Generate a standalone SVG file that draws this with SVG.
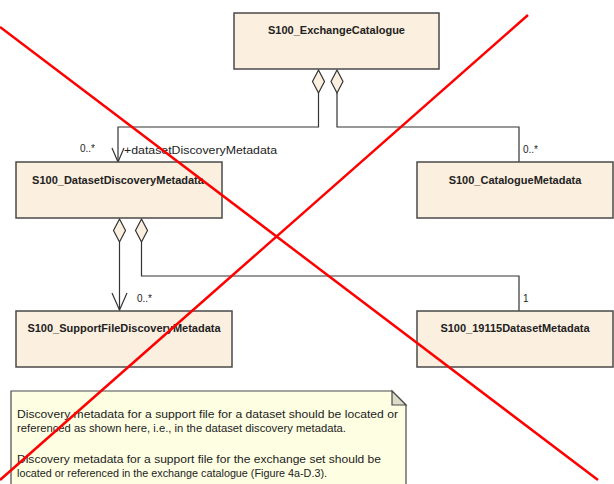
<svg xmlns="http://www.w3.org/2000/svg" width="614" height="484" viewBox="0 0 614 484">
<style>
.box{fill:#FBEFDF;stroke:#4a4a4a;stroke-width:1.5}
.title{font-family:"Liberation Sans",Arial,sans-serif;font-size:11px;font-weight:bold;fill:#222;text-anchor:middle}
.lbl{font-family:"Liberation Sans",Arial,sans-serif;font-size:10px;fill:#222}
.conn{fill:none;stroke:#333;stroke-width:1.2}
.dia{fill:#FBEFDF;stroke:#333;stroke-width:1.2}
.note{fill:#FEFEE2;stroke:#4a4a4a;stroke-width:1.2}
.ntxt{font-family:"Liberation Sans",Arial,sans-serif;font-size:10.5px;fill:#222}
.cross{stroke:#FF0000;stroke-width:2.5;fill:none}
</style>
<rect width="614" height="484" fill="#fff"/>
<g id="conns">
<path class="conn" d="M318.5,93 V127 H118 V162"/>
<path class="conn" d="M337,93 V127 H519 V162"/>
<path class="conn" d="M119.5,242 V310"/>
<path class="conn" d="M141.5,242 V276 H519 V311"/>
<path class="conn" d="M112,148 L118,162 L124,148"/>
<path class="conn" d="M112,293 L119.5,310 L127,293"/>
<path class="dia" d="M318.5,70 L324.5,81.5 L318.5,93 L312.5,81.5 Z"/>
<path class="dia" d="M337,70 L343,81.5 L337,93 L331,81.5 Z"/>
<path class="dia" d="M119.5,219 L125.5,230.5 L119.5,242 L113.5,230.5 Z"/>
<path class="dia" d="M141.5,219 L147.5,230.5 L141.5,242 L135.5,230.5 Z"/>
<text class="lbl" x="80" y="152">0..*</text>
<text class="lbl" x="124" y="154" textLength="153" lengthAdjust="spacingAndGlyphs">+datasetDiscoveryMetadata</text>
<text class="lbl" x="523" y="153">0..*</text>
<text class="lbl" x="137" y="302">0..*</text>
<text class="lbl" x="523" y="302">1</text>
</g>
<g id="exchangeCatalogue">
<rect class="box" x="234" y="13" width="205" height="56"/>
<text class="title" x="336.5" y="34">S100_ExchangeCatalogue</text>
</g>
<g id="datasetDiscoveryMetadata">
<rect class="box" x="16" y="162" width="206" height="56"/>
<text class="title" x="118" y="184">S100_DatasetDiscoveryMetadata</text>
</g>
<g id="catalogueMetadata">
<rect class="box" x="417" y="162" width="196" height="56"/>
<text class="title" x="515" y="184">S100_CatalogueMetadata</text>
</g>
<g id="supportFileDiscoveryMetadata">
<rect class="box" x="16" y="311" width="216" height="56"/>
<text class="title" x="124" y="332">S100_SupportFileDiscoveryMetadata</text>
</g>
<g id="datasetMetadata19115">
<rect class="box" x="417" y="311" width="196" height="56"/>
<text class="title" x="515" y="332">S100_19115DatasetMetadata</text>
</g>
<g id="note">
<path class="note" d="M11,391 H392 L406,405 V490 H11 Z"/>
<path d="M392,391 V405 H406 Z" fill="#DCDCC8" stroke="#4a4a4a" stroke-width="1.2"/>
<text class="ntxt" x="17" y="418" textLength="381" lengthAdjust="spacingAndGlyphs">Discovery metadata for a support file for a dataset should be located or</text>
<text class="ntxt" x="17" y="432" textLength="329" lengthAdjust="spacingAndGlyphs">referenced as shown here, i.e., in the dataset discovery metadata.</text>
<text class="ntxt" x="17" y="463" textLength="364" lengthAdjust="spacingAndGlyphs">Discovery metadata for a support file for the exchange set should be</text>
<text class="ntxt" x="17" y="477" textLength="310" lengthAdjust="spacingAndGlyphs">located or referenced in the exchange catalogue (Figure 4a-D.3).</text>
</g>
<g id="cross">
<line class="cross" x1="0" y1="27" x2="598" y2="480"/>
<line class="cross" x1="528" y1="15" x2="0" y2="480"/>
</g>
</svg>
